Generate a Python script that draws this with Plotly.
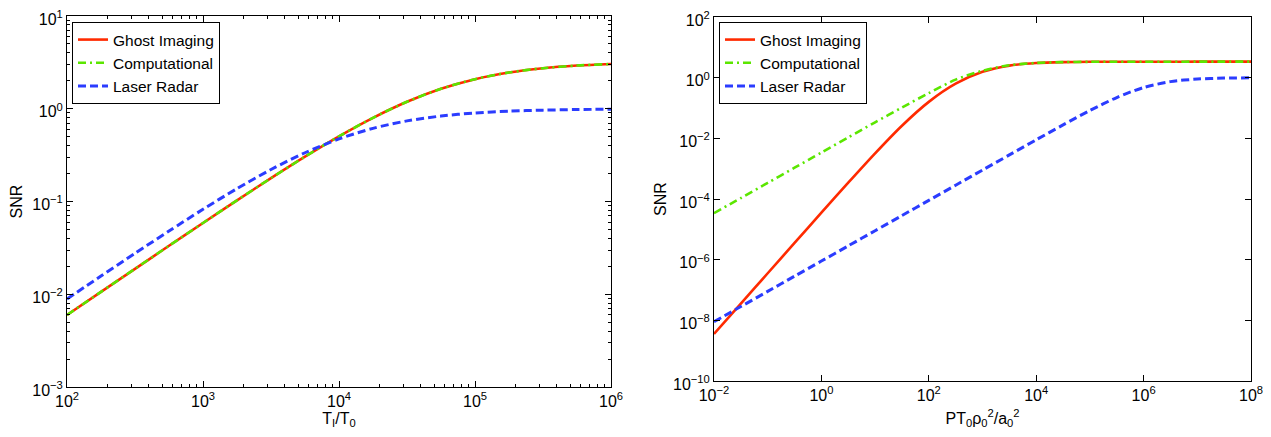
import plotly.graph_objects as go

# ---------------- data ----------------
# Left panel: SNR vs T_I/T_0
left_x = [100, 177.8, 316.2, 562.3, 1000, 1778, 3162, 5623, 10000, 17783,
          31623, 56234, 100000, 177828, 316228, 562341, 1000000]
left_ghost = [0.00597, 0.0106, 0.0188, 0.0333, 0.0587, 0.1029, 0.1786, 0.3043,
              0.504, 0.798, 1.189, 1.640, 2.085, 2.460, 2.737, 2.922, 3.037]
left_comp = [0.00597, 0.0106, 0.0188, 0.0333, 0.0587, 0.1029, 0.1786, 0.3043,
             0.504, 0.798, 1.189, 1.640, 2.085, 2.460, 2.737, 2.922, 3.037]
left_radar = [0.0089, 0.01572, 0.02761, 0.04807, 0.0824, 0.1377, 0.2212, 0.3355,
              0.4731, 0.6149, 0.7396, 0.8347, 0.8998, 0.9411, 0.9660, 0.9806, 0.989]

# Right panel: SNR vs P T_0 rho_0^2 / a_0^2
right_x = [0.01, 0.03162, 0.1, 0.3162, 1, 3.162, 10, 31.62, 100, 316.2, 1000,
           3162, 10000, 31623, 100000, 316228, 1e6, 3.162e6, 1e7, 3.162e7, 1e8]
right_ghost = [3.57e-9, 3.57e-8, 3.57e-7, 3.56e-6, 3.53e-5, 3.45e-4, 3.20e-3,
               0.0261, 0.1593, 0.632, 1.555, 2.498, 3.039, 3.256, 3.331,
               3.355, 3.363, 3.366, 3.367, 3.367, 3.367]
right_comp = [3.40e-5, 1.075e-4, 3.40e-4, 1.075e-3, 3.40e-3, 0.01073, 0.0337,
              0.1035, 0.309, 0.859, 1.69, 2.56, 3.06, 3.25, 3.33,
              3.355, 3.363, 3.366, 3.367, 3.367, 3.367]
right_radar = [9.0e-9, 2.85e-8, 9.0e-8, 2.85e-7, 9.0e-7, 2.85e-6, 9.0e-6,
               2.85e-5, 9.0e-5, 2.85e-4, 9.0e-4, 2.84e-3, 8.93e-3, 0.0277,
               0.0826, 0.2217, 0.4737, 0.740, 0.900, 0.966, 0.989]

series_names = ["Ghost Imaging", "Computational", "Laser Radar"]

left_xtick_vals = [1e2, 1e3, 1e4, 1e5, 1e6]
left_xtick_text = ["10<sup>2</sup>", "10<sup>3</sup>", "10<sup>4</sup>",
                   "10<sup>5</sup>", "10<sup>6</sup>"]
left_ytick_vals = [1e-3, 1e-2, 1e-1, 1e0, 1e1]
left_ytick_text = ["10<sup>\u22123</sup>", "10<sup>\u22122</sup>",
                   "10<sup>\u22121</sup>", "10<sup>0</sup>", "10<sup>1</sup>"]
right_xtick_vals = [1e-2, 1e0, 1e2, 1e4, 1e6, 1e8]
right_xtick_text = ["10<sup>\u22122</sup>", "10<sup>0</sup>", "10<sup>2</sup>",
                    "10<sup>4</sup>", "10<sup>6</sup>", "10<sup>8</sup>"]
right_ytick_vals = [1e-10, 1e-8, 1e-6, 1e-4, 1e-2, 1e0, 1e2]
right_ytick_text = ["10<sup>\u221210</sup>", "10<sup>\u22128</sup>",
                    "10<sup>\u22126</sup>", "10<sup>\u22124</sup>",
                    "10<sup>\u22122</sup>", "10<sup>0</sup>", "10<sup>2</sup>"]

# ---------------- styles ----------------
RED = "#ff2a00"
GREEN = "#5be600"
BLUE = "#2b3cff"
FONT = "Liberation Sans, Arial, Helvetica, sans-serif"

styles = [
    dict(color=RED, width=2.6, dash="solid"),
    dict(color=GREEN, width=2.6, dash="8px,4px,2px,4px"),
    dict(color=BLUE, width=3, dash="8px,4px"),
]

fig = go.Figure()

left_sets = [left_ghost, left_comp, left_radar]
right_sets = [right_ghost, right_comp, right_radar]

for name, ys, st in zip(series_names, left_sets, styles):
    fig.add_trace(go.Scatter(x=left_x, y=ys, mode="lines", name=name,
                             line=dict(shape="spline", smoothing=0.8, **st),
                             xaxis="x", yaxis="y", legend="legend"))
for name, ys, st in zip(series_names, right_sets, styles):
    fig.add_trace(go.Scatter(x=right_x, y=ys, mode="lines", name=name,
                             line=dict(shape="spline", smoothing=0.8, **st),
                             xaxis="x2", yaxis="y2", legend="legend2"))

# page body has an 8px margin: the figure starts at (8, 8) in the window
W, H = 1263, 421


def minor_vals(lo, hi):
    vals = []
    for e in range(lo, hi):
        for m in range(2, 10):
            vals.append(m * 10.0 ** e)
    return vals


axis_common = dict(
    type="log", showgrid=False, zeroline=False, showline=True,
    automargin=False, ticklabeloverflow="allow",
    linecolor="black", linewidth=1, mirror="ticks", ticks="inside",
    tickcolor="black", tickwidth=1, tickmode="array",
    tickfont=dict(family=FONT, size=16, color="black"),
    title_font=dict(family=FONT, size=16, color="black"),
)

legend_common = dict(
    xanchor="left", yanchor="top", bgcolor="white", bordercolor="black",
    borderwidth=1, font=dict(family=FONT, size=15.5, color="black"),
    tracegroupgap=0, itemwidth=30,
)

fig.update_layout(
    template="none",
    width=W, height=H,
    margin=dict(l=0, r=0, t=0, b=0, pad=0, autoexpand=False),
    paper_bgcolor="white", plot_bgcolor="white",
    font=dict(family=FONT, color="black"),
    xaxis=dict(axis_common, domain=[59 / W, 603 / W], anchor="y",
               range=[2, 6], tickvals=left_xtick_vals, ticktext=left_xtick_text,
               ticklen=6,
               minor=dict(ticks="inside", ticklen=3, tickcolor="black",
                          tickmode="array", tickvals=minor_vals(2, 6),
                          showgrid=False),
               title=dict(text="T<sub>I</sub>/T<sub>0</sub>", standoff=14)),
    yaxis=dict(axis_common, domain=[1 - 379 / H, 1 - 8 / H], anchor="x",
               range=[-3, 1], tickvals=left_ytick_vals, ticktext=left_ytick_text,
               ticklen=6, ticklabelshift=3,
               minor=dict(ticks="inside", ticklen=3, tickcolor="black",
                          tickmode="array", tickvals=minor_vals(-3, 1),
                          showgrid=False),
               title=dict(text="SNR", standoff=6)),
    xaxis2=dict(axis_common, domain=[706 / W, 1243 / W], anchor="y2",
                range=[-2, 8], tickvals=right_xtick_vals,
                ticktext=right_xtick_text, ticklen=6,
                title=dict(text="PT<sub>0</sub>\u03c1<sub>0</sub><sup>2</sup>/a<sub>0</sub><sup>2</sup>",
                           standoff=20)),
    yaxis2=dict(axis_common, domain=[1 - 373 / H, 1 - 9 / H], anchor="x2",
                range=[-10, 2], tickvals=right_ytick_vals,
                ticktext=right_ytick_text, ticklen=6, ticklabelshift=3,
                title=dict(text="SNR", standoff=2)),
    legend=dict(legend_common, x=64 / W, y=1 - 14 / H),
    legend2=dict(legend_common, x=711 / W, y=1 - 14 / H),
    showlegend=True,
)

fig.write_html("out.html")
